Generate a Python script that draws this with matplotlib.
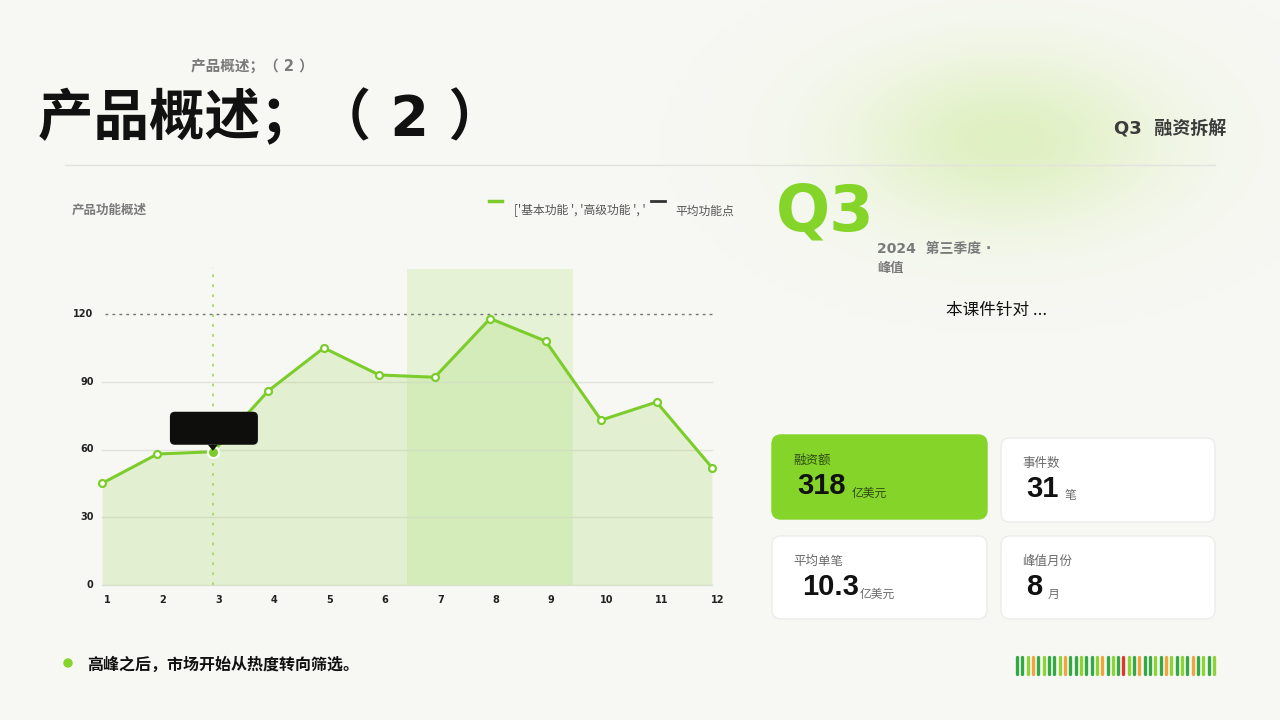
import numpy as np
import matplotlib
matplotlib.use("Agg")
import matplotlib.pyplot as plt
from matplotlib.patches import FancyBboxPatch, Rectangle, Polygon, Circle
from matplotlib.lines import Line2D

plt.rcParams['font.family'] = ['Noto Sans CJK SC', 'DejaVu Sans']
LATIN_FIRST = ['DejaVu Sans', 'Noto Sans CJK SC']

# ── data ──────────────────────────────────────────────────────────────────────
months = [1, 2, 3, 4, 5, 6, 7, 8, 9, 10, 11, 12]
values = [45, 58, 59, 86, 105, 93, 92, 118, 108, 73, 81, 52]
y_ticks = [0, 30, 60, 90, 120]
ref_line = 120
focus_month = 3
band_range = (6.5, 9.5)

card_labels = ["融资额", "事件数", "平均单笔", "峰值月份"]
card_values = ["318", "31", "10.3", "8"]
card_units = ["亿美元", "笔", "亿美元", "月"]

legend_labels = ["['基本功能 ', '高级功能 ', '", "平均功能点"]
barcode = "DDLODLDDLODDLDDLODLDRLDODDLDOLDLDODLDL"

GREEN = "#84d42a"
LINE_GREEN = "#7ccd2c"
BG = "#f7f8f3"
DARK = "#111111"
GRAY = "#7a7a7a"
bar_colors = {"D": "#35a846", "L": "#8cd436", "O": "#f0a440", "R": "#e0362e"}

W, H = 1280, 720
fig = plt.figure(figsize=(12.8, 7.2), dpi=100)
fig.patch.set_facecolor(BG)

# background overlay in pixel coords
bg = fig.add_axes([0, 0, 1, 1], zorder=0)
bg.axis("off")

# soft green glow top right
gx, gy = np.meshgrid(np.arange(0, W, 2), np.arange(0, H, 2))
d = ((gx - 1005) / 170.0) ** 2 + ((gy - 140) / 95.0) ** 2
alpha = 0.55 * np.exp(-d * 1.2)
glow = np.zeros(gx.shape + (4,))
glow[..., 0] = 0.80
glow[..., 1] = 0.92
glow[..., 2] = 0.60
glow[..., 3] = alpha
bg.imshow(glow, extent=(0, W, H, 0), interpolation="bilinear", zorder=0)
bg.set_xlim(0, W)
bg.set_ylim(H, 0)

# header
bg.text(191, 66, "产品概述；（ 2 ）", fontsize=10.5, fontweight="bold", color=GRAY,
        va="center", ha="left", family=LATIN_FIRST)
bg.text(38, 119, "产品概述；（ 2 ）", fontsize=40, fontweight="bold", color=DARK,
        va="center", ha="left", family=LATIN_FIRST)
bg.text(1226, 129, "Q3  融资拆解", fontsize=13, fontweight="bold", color="#3b3b3b",
        va="center", ha="right", family=LATIN_FIRST)
bg.add_line(Line2D([65, 1215], [165, 165], color="#e2e3de", lw=1))

# chart title + legend
bg.text(72, 210, "产品功能概述", fontsize=9, fontweight="bold", color=GRAY, va="center")
bg.add_line(Line2D([489, 502], [201, 201], color=LINE_GREEN, lw=2.5))
bg.text(514, 211, legend_labels[0], fontsize=8.5, color="#555555", va="center")
bg.add_line(Line2D([651, 665], [201, 201], color="#333333", lw=2))
bg.text(675, 211, legend_labels[1], fontsize=8.5, color="#555555", va="center")

# right panel
bg.text(776, 212, "Q3", fontsize=46, fontweight="bold", color=GREEN, va="center",
        ha="left", family="DejaVu Sans")
bg.text(877, 249, "2024  第三季度 ·", fontsize=10, fontweight="bold", color=GRAY,
        va="center", family=LATIN_FIRST)
bg.text(877, 268, "峰值", fontsize=9.5, fontweight="bold", color=GRAY, va="center")
bg.text(997, 310, "本课件针对 ...", fontsize=12, color=DARK, va="center", ha="center")

# KPI cards
card_boxes = [(772, 435, 215, 84), (1001, 438, 214, 84), (772, 536, 215, 83), (1001, 536, 214, 83)]
fig.canvas.draw()
renderer = fig.canvas.get_renderer()
for i, (x, y, w, h) in enumerate(card_boxes):
    hl = i == 0
    bg.add_patch(FancyBboxPatch((x, y), w, h, boxstyle="round,pad=0,rounding_size=9",
                                fc=GREEN if hl else "white",
                                ec=GREEN if hl else "#ececea", lw=1, zorder=2))
    bg.text(x + 21, y + 25, card_labels[i], fontsize=9,
            color="#2f4a12" if hl else "#6a6a6a", va="center", zorder=3)
    t = bg.text(x + 25 + (5 if i == 2 else 0), y + 51, card_values[i], fontsize=21,
                fontweight="bold", color=DARK, va="center", family="Liberation Sans",
                zorder=3)
    bb = t.get_window_extent(renderer=renderer)
    x_end = bb.x1 + (6 if i != 2 else 1)
    bg.text(x_end, y + 58, card_units[i], fontsize=8.5,
            color="#2f4a12" if hl else "#6a6a6a", va="center", zorder=3)

# bottom note
bg.add_patch(Circle((68, 663), 4, color=GREEN, zorder=2))
bg.text(87, 665, "高峰之后，市场开始从热度转向筛选。", fontsize=11.5, fontweight="bold",
        color=DARK, va="center")

# barcode
bx0, bx1 = 1017, 1214
step = (bx1 - bx0) / (len(barcode) - 1)
for k, c in enumerate(barcode):
    bg.add_line(Line2D([bx0 + k * step] * 2, [656.5, 673.5], color=bar_colors[c], lw=2.4,
                       solid_capstyle="round", zorder=2))

# ── line chart ────────────────────────────────────────────────────────────────
px_x1, px_x12 = 102, 712
px_y0, px_y120 = 585, 314
ux = (px_x12 - px_x1) / 11.0
uy = (px_y0 - px_y120) / 120.0
xlo, xhi = 0.6, 12.4
ylo, yhi = -5, 140
left = px_x1 - (1 - xlo) * ux
right = px_x12 + (xhi - 12) * ux
bottom = px_y0 + (0 - ylo) * uy
top = px_y0 - yhi * uy
ax = fig.add_axes([left / W, 1 - bottom / H, (right - left) / W, (bottom - top) / H], zorder=2)
ax.set_xlim(xlo, xhi)
ax.set_ylim(ylo, yhi)
ax.patch.set_alpha(0)
for s in ax.spines.values():
    s.set_visible(False)
ax.set_xticks([])
ax.set_yticks([])

ax.add_patch(Rectangle((band_range[0], 0), band_range[1] - band_range[0], yhi,
                       fc="#c6e7a0", alpha=0.35, lw=0, zorder=1))
for v in y_ticks:
    if v == ref_line:
        ax.plot([1.05, 12], [v, v], color="#777777", lw=1, ls=(0, (2, 3)), zorder=2)
    else:
        ax.plot([1, 12], [v, v], color="#e1e3dc", lw=1, zorder=2)
    ax.annotate(str(v), (1, v), xytext=(-6, 0), textcoords="offset points",
                ha="right", va="center", fontsize=7, fontweight="bold", color="#222222",
                family="Liberation Sans Narrow")
for m in months:
    ax.annotate(str(m), (m, 0), xytext=(4, -11), textcoords="offset points",
                ha="center", va="center", fontsize=7, fontweight="bold", color="#222222",
                family="Liberation Sans Narrow")

ax.plot([focus_month, focus_month], [0, yhi + 1], color="#a6d86a", lw=1.3, ls=(0, (1.5, 4)),
        zorder=3, clip_on=False)
ax.fill_between(months, values, 0, color="#9bd45a", alpha=0.22, lw=0, zorder=2)
ax.plot(months, values, color=LINE_GREEN, lw=2.2, zorder=4)
ax.plot(months, values, "o", ms=5, mfc="white", mec=LINE_GREEN, mew=1.6, zorder=5)
fi = months.index(focus_month)
ax.plot([focus_month], [values[fi]], "o", ms=8, mfc=LINE_GREEN, mec="white", mew=1.5,
        zorder=6)

# tooltip above the focus point
top_ax = fig.add_axes([0, 0, 1, 1], zorder=5)
top_ax.set_xlim(0, W)
top_ax.set_ylim(H, 0)
top_ax.axis("off")
fig.canvas.draw()
fx, fy = ax.transData.transform((focus_month, values[fi]))
fy = H - fy
tw, th = 88, 33
tip_gap = 7
top_ax.add_patch(FancyBboxPatch((fx - 43, fy - tip_gap - th), tw, th,
                                boxstyle="round,pad=0,rounding_size=5", fc="#0e0f0c",
                                ec="none"))
top_ax.add_patch(Polygon([[fx - 5, fy - tip_gap], [fx + 5, fy - tip_gap], [fx, fy - 1]],
                         closed=True, fc="#0e0f0c", ec="none"))

fig.savefig("out.png", dpi=100, facecolor=BG)
